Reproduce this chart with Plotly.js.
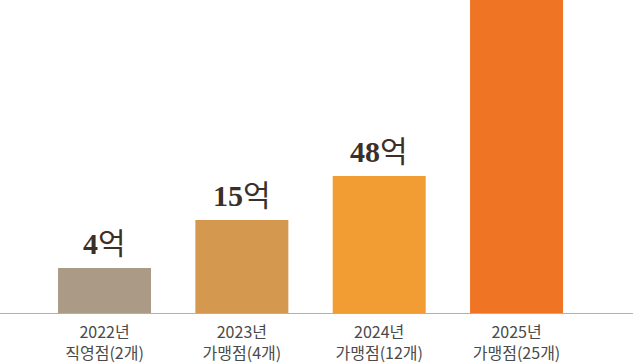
<!DOCTYPE html>
<html>
<head>
<meta charset="utf-8">
<script src="https://cdn.plot.ly/plotly-3.0.1.min.js"></script>
<style>html,body{margin:0;padding:0;background:#fff;}#chart{width:633px;height:363px;}</style>
</head>
<body>
<div id="chart"></div>
<script>
// Data
var categories = ["2022년<br>직영점(2개)", "2023년<br>가맹점(4개)", "2024년<br>가맹점(12개)", "2025년<br>가맹점(25개)"];
var barHeights = [45, 93, 137, 340];          // drawn bar heights (chart is not to scale)
var valueNumbers = ["4", "15", "48", ""];      // value shown above each bar (억)
var valueUnit = "억";
var barColors = ["#ab9a85", "#d4994e", "#f19d33", "#ef7423"];

var annotations = [];
categories.forEach(function (c, i) {
  if (!valueNumbers[i]) return;
  annotations.push({
    x: c, y: barHeights[i], xref: "x", yref: "y",
    text: "<b>" + valueNumbers[i] + "</b>" + valueUnit,
    showarrow: false, xanchor: "center", yanchor: "bottom", yshift: 6,
    font: {family: "Liberation Serif, 'Noto Sans CJK KR', serif", size: 30, color: "#3a3029"}
  });
});

var trace = {
  type: "bar",
  x: categories,
  y: barHeights,
  cliponaxis: true,
  marker: {color: barColors, line: {width: 0}},
  width: 0.677,
  hoverinfo: "none"
};

var layout = {
  width: 633, height: 363,
  margin: {l: 0, r: 0, t: 0, b: 50},
  paper_bgcolor: "#ffffff", plot_bgcolor: "#ffffff",
  showlegend: false,
  annotations: annotations,
  xaxis: {
    type: "category",
    range: [-0.761, 3.848],
    showline: true, linecolor: "#b0b0b0", linewidth: 1,
    showgrid: false, zeroline: false, ticks: "",
    ticklabelstandoff: 5,
    tickfont: {family: "'Noto Sans CJK KR', sans-serif", size: 16, color: "#4a4a4a"},
    fixedrange: true
  },
  yaxis: {
    range: [0, 313],
    visible: false, showgrid: false, zeroline: false, fixedrange: true
  }
};

Plotly.newPlot("chart", [trace], layout, {displayModeBar: false, staticPlot: true});
</script>
</body>
</html>
